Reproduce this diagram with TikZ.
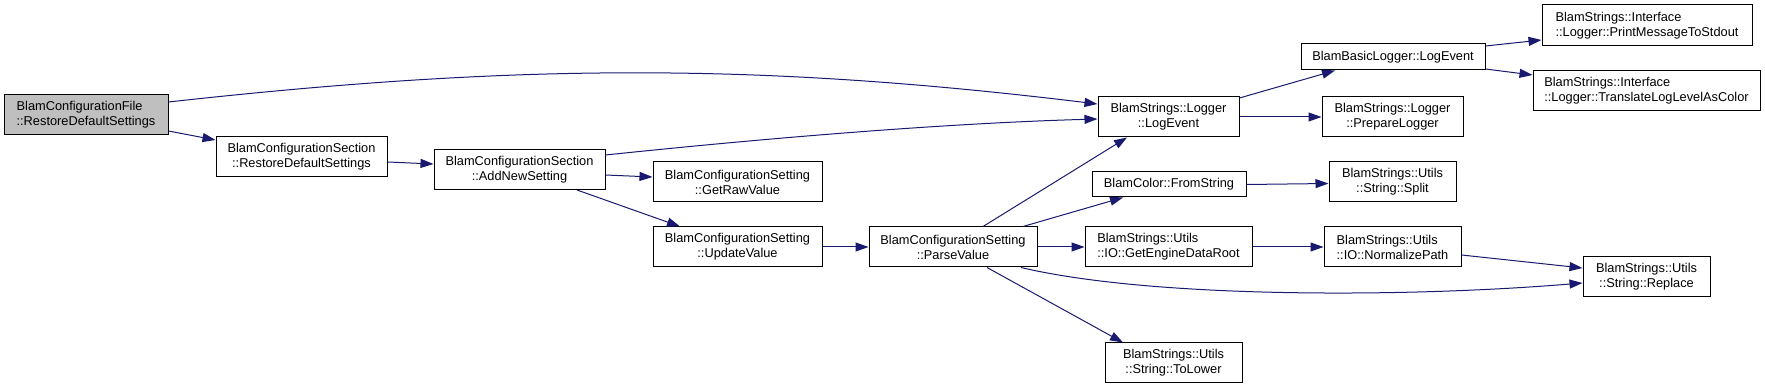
\documentclass[tikz,border=0pt]{standalone}
\usepackage{fontspec}
\setmainfont{Liberation Sans}
\usetikzlibrary{arrows.meta,calc}
\definecolor{edgeblue}{HTML}{191970}
\definecolor{rootgray}{HTML}{BFBFBF}
\begin{document}
\begin{tikzpicture}[x=1pt,y=1pt,
  fn/.style={draw=black, line width=1pt, fill=white, inner sep=0pt, align=center,
     font=\fontsize{12.8pt}{15pt}\selectfont, minimum height=40pt},
  fnl/.style={fn, align=left},
  call/.style={draw=edgeblue, line width=1pt, -{Triangle[length=13pt,width=9pt]}, color=edgeblue}]
\useasboundingbox (0,0) rectangle (1765,391);
% nodes
\node[fnl, fill=rootgray, minimum width=164pt] (File) at (86,276) {BlamConfigurationFile\\::RestoreDefaultSettings};
\node[fn, minimum width=171pt] (SecRDS) at (301.5,234) {BlamConfigurationSection\\::RestoreDefaultSettings};
\node[fn, minimum width=171pt] (AddNew) at (519.5,221.5) {BlamConfigurationSection\\::AddNewSetting};
\node[fn, minimum width=169pt] (GetRaw) at (737.5,209) {BlamConfigurationSetting\\::GetRawValue};
\node[fn, minimum width=169pt] (Update) at (737.5,144) {BlamConfigurationSetting\\::UpdateValue};
\node[fn, minimum width=168pt] (Parse) at (953,144) {BlamConfigurationSetting\\::ParseValue};
\node[fn, minimum width=141pt] (LogEvent) at (1168.5,274) {BlamStrings::Logger\\::LogEvent};
\node[fn, minimum width=154pt, minimum height=25pt] (FromString) at (1169,206.5) {BlamColor::FromString};
\node[fnl, minimum width=167pt] (GetEDR) at (1168.5,144) {BlamStrings::Utils\\::IO::GetEngineDataRoot};
\node[fn, minimum width=137pt] (ToLower) at (1173.5,28) {BlamStrings::Utils\\::String::ToLower};
\node[fn, minimum width=184pt, minimum height=26pt] (Basic) at (1393,334) {BlamBasicLogger::LogEvent};
\node[fn, minimum width=141pt] (Prepare) at (1392.5,274) {BlamStrings::Logger\\::PrepareLogger};
\node[fn, minimum width=127pt] (Split) at (1392.5,209) {BlamStrings::Utils\\::String::Split};
\node[fnl, minimum width=137pt] (Normalize) at (1392.5,144) {BlamStrings::Utils\\::IO::NormalizePath};
\node[fnl, minimum width=210pt, minimum height=41pt] (Print) at (1647,365.5) {BlamStrings::Interface\\::Logger::PrintMessageToStdout};
\node[fnl, minimum width=227pt] (Translate) at (1646.5,300) {BlamStrings::Interface\\::Logger::TranslateLogLevelAsColor};
\node[fn, minimum width=127pt] (Replace) at (1646.5,114) {BlamStrings::Utils\\::String::Replace};
% edges
\draw[call] ($(File.east)+(0,13)$) .. controls (520,328) and (760,328) .. ($(LogEvent.west)+(0,13)$);
\draw[call] ($(File.east)+(0,-16)$) -- ($(SecRDS.west)+(0,17)$);
\draw[call] ($(SecRDS.east)+(0,-5)$) -- ($(AddNew.west)+(0,5.5)$);
\draw[call] ($(AddNew.east)+(0,14.5)$) .. controls (720,248) and (920,267) .. ($(LogEvent.west)+(0,-2)$);
\draw[call] ($(AddNew.east)+(0,-5.5)$) -- ($(GetRaw.west)+(0,5)$);
\draw[call] ($(AddNew.south)+(57.5,0)$) -- ($(Update.north)+(-57.5,0)$);
\draw[call] (Update.east) -- (Parse.west);
\draw[call] ($(Parse.north)+(30,0)$) -- ($(LogEvent.south)+(-41.5,0)$);
\draw[call] ($(Parse.north)+(70,0)$) -- ($(FromString.south)+(-46,0)$);
\draw[call] (Parse.east) -- (GetEDR.west);
\draw[call] ($(Parse.south)+(68,0)$) .. controls (1150,93) and (1400,93) .. ($(Replace.west)+(0,-6)$);
\draw[call] ($(Parse.south)+(34,0)$) -- ($(ToLower.north)+(-50.5,0)$);
\draw[call] ($(LogEvent.east)+(0,19)$) -- ($(Basic.south)+(-58,0)$);
\draw[call] (LogEvent.east) -- (Prepare.west);
\draw[call] ($(Basic.east)+(0,11)$) -- ($(Print.west)+(0,-14.5)$);
\draw[call] ($(Basic.east)+(0,-12)$) -- ($(Translate.west)+(0,16)$);
\draw[call] (FromString.east) -- ($(Split.west)+(0,-1.5)$);
\draw[call] (GetEDR.east) -- (Normalize.west);
\draw[call] ($(Normalize.east)+(0,-8)$) -- ($(Replace.west)+(0,9)$);
\end{tikzpicture}
\end{document}
